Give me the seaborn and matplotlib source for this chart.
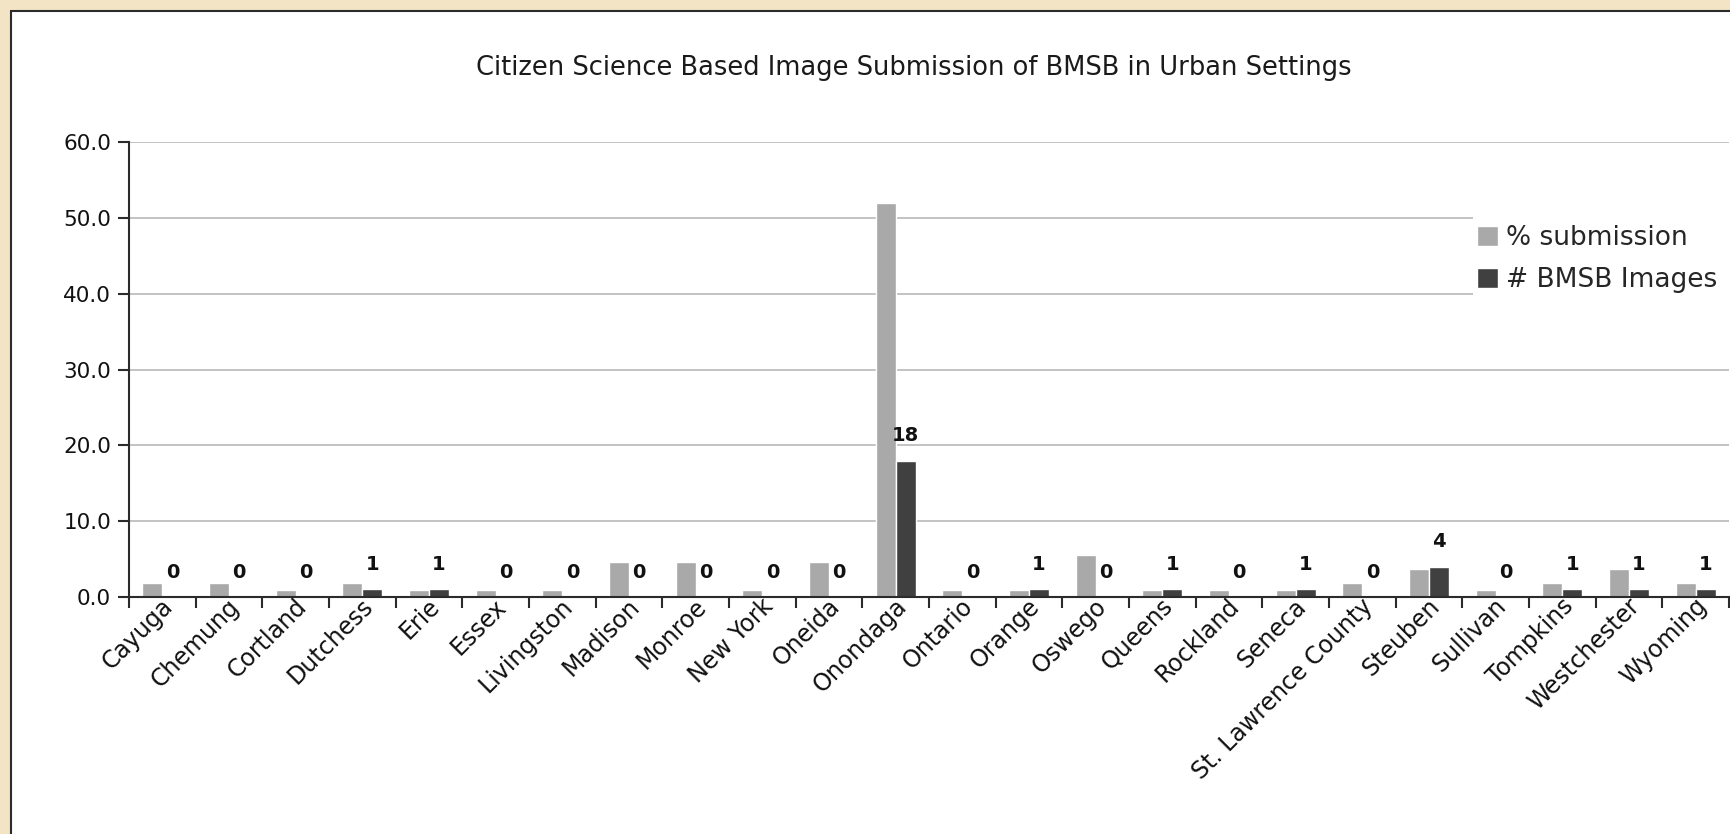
import matplotlib

matplotlib.use("Agg")
import matplotlib.pyplot as plt
import matplotlib.transforms as mtransforms
import numpy as np
import pandas as pd
import seaborn as sns
from matplotlib.patches import Patch, Rectangle

counties = [
    "Cayuga", "Chemung", "Cortland", "Dutchess", "Erie", "Essex", "Livingston",
    "Madison", "Monroe", "New York", "Oneida", "Onondaga", "Ontario", "Orange",
    "Oswego", "Queens", "Rockland", "Seneca", "St. Lawrence County", "Steuben",
    "Sullivan", "Tompkins", "Westchester", "Wyoming",
]
pct_submission = [1.8, 1.8, 0.9, 1.8, 0.9, 0.9, 0.9, 4.6, 4.6, 0.9, 4.6, 52.0,
                  0.9, 0.9, 5.5, 0.9, 0.9, 0.9, 1.8, 3.7, 0.9, 1.8, 3.7, 1.8]
bmsb_images = [0, 0, 0, 1, 1, 0, 0, 0, 0, 0, 0, 18,
               0, 1, 0, 1, 0, 1, 0, 4, 0, 1, 1, 1]
series_names = ["% submission", "# BMSB Images"]
y_ticks = [0, 10, 20, 30, 40, 50, 60]
title = "Citizen Science Based Image Submission of BMSB in Urban Settings"

LIGHT = "#A9A9A9"
DARK = "#404040"
W, H = 1731, 834

df = pd.DataFrame({
    "county": counties * 2,
    "series": [series_names[0]] * len(counties) + [series_names[1]] * len(counties),
    "value": pct_submission + bmsb_images,
})

sns.set_theme(style="ticks")
plt.rcParams["font.family"] = ["DejaVu Sans"]

fig = plt.figure(figsize=(W / 100, H / 100), dpi=100, facecolor="#F4E4C6")

# white chart panel with thin border (cropped at right/bottom)
panel = Rectangle((11 / W, -0.2), 1.2, 1.2 - 11 / H, transform=fig.transFigure,
                  facecolor="white", edgecolor="#2b2b2b", lw=1.5, zorder=-1)
fig.add_artist(panel)

ax = fig.add_axes([129 / W, 1 - 597 / H, 1600 / W, (597 - 142) / H])
ax.set_facecolor("none")

sns.barplot(data=df, x="county", y="value", hue="series", palette=[LIGHT, DARK],
            width=0.6, errorbar=None, saturation=1, legend=False, ax=ax)

ax.set_xlim(-0.5, len(counties) - 0.5)
ax.set_ylim(0, 60)
ax.set_yticks(y_ticks)
ax.set_yticklabels([f"{v:.1f}" for v in y_ticks])
ax.set_xlabel("")
ax.set_ylabel("")
ax.yaxis.grid(True, color="#BEBEBE", lw=1.3)
ax.set_axisbelow(True)

for side in ["top", "right"]:
    ax.spines[side].set_visible(False)
for side in ["left", "bottom"]:
    ax.spines[side].set_color("#2b2b2b")
    ax.spines[side].set_linewidth(1.5)

ax.tick_params(axis="y", length=8, width=1.5, color="#2b2b2b", labelsize=15.5,
               labelcolor="#111111", pad=5, left=True)
ax.set_xticks(np.arange(len(counties) + 1) - 0.5, minor=True)
ax.tick_params(axis="x", which="minor", length=8, width=1.5, color="#2b2b2b", bottom=True)
ax.tick_params(axis="x", which="major", length=0, labelsize=17, labelcolor="#111111", pad=4)
offset = mtransforms.ScaledTranslation(7 / 100, 0, fig.dpi_scale_trans)
for lbl in ax.get_xticklabels():
    lbl.set_rotation(45)
    lbl.set_ha("right")
    lbl.set_va("center")
    lbl.set_rotation_mode("anchor")
    lbl.set_transform(lbl.get_transform() + offset)

ax.bar_label(ax.containers[1], labels=[str(v) for v in bmsb_images], padding=11,
             fontsize=14, fontweight="bold", color="#111111")

# legend sits on a white block over the gridlines
fig.add_artist(Rectangle((1473 / W, 1 - 350 / H), 0.2, 195 / H, transform=fig.transFigure,
                         facecolor="white", edgecolor="none", zorder=1))
handles = [Patch(facecolor=LIGHT), Patch(facecolor=DARK)]
fig.legend(handles, series_names, loc="upper left", bbox_to_anchor=(1477 / W, 1 - 225 / H),
           frameon=False, fontsize=19, handlelength=0.8, handleheight=0.8,
           handletextpad=0.3, labelspacing=0.6, borderpad=0, borderaxespad=0)

fig.text(914 / W, 1 - 68 / H, title, ha="center", va="center", fontsize=18.5, color="#1a1a1a")

fig.savefig("out.png", dpi=100, facecolor=fig.get_facecolor())
